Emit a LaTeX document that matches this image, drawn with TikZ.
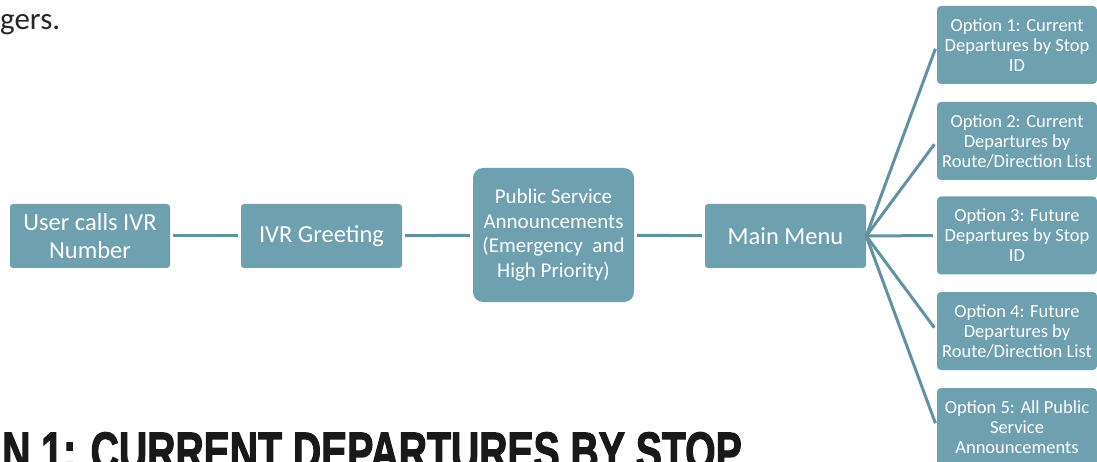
\documentclass[tikz,border=0pt]{standalone}
\usepackage{fontspec}
\setmainfont{Carlito}
\newfontfamily\headfont[BoldFeatures={FakeBold=2.5}]{Liberation Sans}
\definecolor{boxblue}{RGB}{111,160,176}
\definecolor{linkblue}{RGB}{98,146,162}

\begin{document}
\begin{tikzpicture}[x=1pt,y=-1pt,
   box/.style={fill=boxblue,text=white,rounded corners=3pt,minimum width=161pt,
      minimum height=64pt,align=center,inner sep=2pt,font=\fontsize{24.5}{28}\selectfont},
   optbox/.style={box,minimum width=160pt,minimum height=78pt,rounded corners=4pt,
      font=\fontsize{18.5}{20}\selectfont},
   link/.style={draw=linkblue,line width=3pt,shorten <=3pt,shorten >=3pt}]
\useasboundingbox (0,0) rectangle (1097,462);
\clip (0,0) rectangle (1097,462);

% text around the chart
\node[anchor=base west,inner sep=0,text=black!85,font=\fontsize{31}{31}\selectfont] (tail) at (0,30) {gers.};
\node[anchor=base west,inner sep=0,text=black!90,font=\headfont\bfseries\fontsize{54}{54}\selectfont]
   (heading) at (2,470) {\scalebox{0.725}[1]{N 1: CURRENT DEPARTURES BY STOP}};

% call flow
\node[box,minimum width=160pt] (call) at (90,236) {User calls IVR\\Number};
\node[box] (greet) at (321.5,236) {IVR Greeting};
\node[box,minimum height=134pt,rounded corners=10pt,font=\fontsize{21}{24.5}\selectfont]
   (psa) at (553.5,235) {Public Service\\Announcements\\(Emergency~ and\\High Priority)};
\node[box] (menu) at (785.5,236) {Main Menu};

% menu options
\node[optbox] (opt1) at (1017,45) {Option 1: Current\\Departures by Stop\\ID};
\node[optbox] (opt2) at (1017,141) {Option 2: Current\\Departures by\\Route/Direction List};
\node[optbox] (opt3) at (1017,235.5) {Option 3: Future\\Departures by Stop\\ID};
\node[optbox] (opt4) at (1017,331) {Option 4: Future\\Departures by\\Route/Direction List};
\node[optbox] (opt5) at (1017,427) {Option 5: All Public\\Service\\Announcements};

\draw[link] (call) -- (greet);
\draw[link] (greet) -- (psa);
\draw[link] (psa) -- (menu);
\foreach \i in {1,...,5}
   \draw[link,shorten <=0pt,shorten >=4pt] (menu.east) -- (opt\i.west);
\end{tikzpicture}
\end{document}
